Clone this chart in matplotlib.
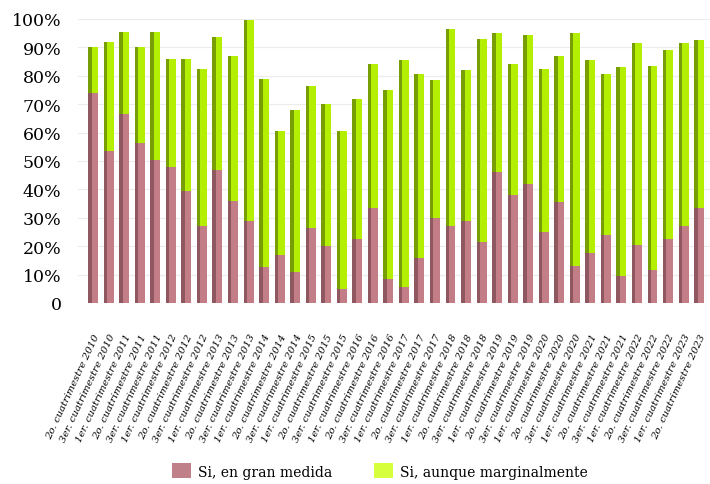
import matplotlib.pyplot as plt
from matplotlib.patches import Patch
from matplotlib.transforms import ScaledTranslation

periods = ['2o. cuatrimestre 2010', '3er. cuatrimestre 2010',
           '1er. cuatrimestre 2011', '2o. cuatrimestre 2011', '3er. cuatrimestre 2011',
           '1er. cuatrimestre 2012', '2o. cuatrimestre 2012', '3er. cuatrimestre 2012',
           '1er. cuatrimestre 2013', '2o. cuatrimestre 2013', '3er. cuatrimestre 2013',
           '1er. cuatrimestre 2014', '2o. cuatrimestre 2014', '3er. cuatrimestre 2014',
           '1er. cuatrimestre 2015', '2o. cuatrimestre 2015', '3er. cuatrimestre 2015',
           '1er. cuatrimestre 2016', '2o. cuatrimestre 2016', '3er. cuatrimestre 2016',
           '1er. cuatrimestre 2017', '2o. cuatrimestre 2017', '3er. cuatrimestre 2017',
           '1er. cuatrimestre 2018', '2o. cuatrimestre 2018', '3er. cuatrimestre 2018',
           '1er. cuatrimestre 2019', '2o. cuatrimestre 2019', '3er. cuatrimestre 2019',
           '1er. cuatrimestre 2020', '2o. cuatrimestre 2020', '3er. cuatrimestre 2020',
           '1er. cuatrimestre 2021', '2o. cuatrimestre 2021', '3er. cuatrimestre 2021',
           '1er. cuatrimestre 2022', '2o. cuatrimestre 2022', '3er. cuatrimestre 2022',
           '1er. cuatrimestre 2023', '2o. cuatrimestre 2023']

# "Si, en gran medida" (%)
gran_medida = [74, 53.5, 66.5, 56.5, 50.5, 48, 39.5, 27, 47, 36,
               29, 12.5, 17, 11, 26.5, 20, 5, 22.5, 33.5, 8.5,
               5.5, 16, 30, 27, 29, 21.5, 46, 38, 42, 25,
               35.5, 13, 17.5, 24, 9.5, 20.5, 11.5, 22.5, 27, 33.5]

# total share answering "Si" (%)
total_si = [90, 92, 95.5, 90, 95.5, 86, 86, 82.5, 93.5, 87,
            99.5, 79, 60.5, 68, 76.5, 70, 60.5, 72, 84, 75,
            85.5, 80.5, 78.5, 96.5, 82, 93, 95, 84, 94.5, 82.5,
            87, 95, 85.5, 80.5, 83, 91.5, 83.5, 89, 91.5, 92.5]

marginal = [t - g for t, g in zip(total_si, gran_medida)]

pink = '#c27d86'
pink_dark = '#6e3f45'
lime = '#b4ee00'
lime_dark = '#4f6a0a'

fig = plt.figure(figsize=(7.10, 4.85), dpi=100)
ax = fig.add_axes([0.11, 0.3732, 0.89, 0.5856])

x = list(range(len(periods)))
w = 0.64
ax.bar(x, gran_medida, width=w, color=pink, zorder=3)
ax.bar(x, marginal, bottom=gran_medida, width=w, color=lime, zorder=3)
# darker left face to give the columns some depth
xs = [i - w / 2 + 0.11 for i in x]
ax.bar(xs, gran_medida, width=0.22, color=pink_dark, alpha=0.6, zorder=4)
ax.bar(xs, marginal, bottom=gran_medida, width=0.22, color=lime_dark, alpha=0.6, zorder=4)

ax.set_xlim(-0.97, 39.7)
ax.set_ylim(0, 100)
ax.set_yticks(range(0, 101, 10))
ax.set_yticklabels(['0'] + ['%d%%' % v for v in range(10, 101, 10)],
                   family='DejaVu Serif', fontsize=12.5)
ax.set_xticks(x)
ax.set_xticklabels(periods, rotation=65, ha='right', rotation_mode='anchor',
                   family='DejaVu Serif', style='italic', fontsize=7.3)
shift = ScaledTranslation(5 / 100, 0, fig.dpi_scale_trans)
for lab in ax.get_xticklabels():
    lab.set_transform(lab.get_transform() + shift)
ax.tick_params(axis='y', length=0, pad=12)
ax.tick_params(axis='x', length=0, pad=21)
ax.grid(axis='y', color='#ececec', linewidth=0.8, zorder=0)
for s in ax.spines.values():
    s.set_visible(False)

handles = [Patch(facecolor='#c0808a', label='Si, en gran medida'),
           Patch(facecolor='#d6ff3c', label='Si, aunque marginalmente')]
fig.legend(handles=handles, loc='center', bbox_to_anchor=(0.535, 0.027), ncol=2,
           frameon=False, prop={'family': 'DejaVu Serif', 'size': 10},
           handlelength=1.37, handleheight=1.3, columnspacing=3.0, handletextpad=0.5)

fig.savefig('out.png', dpi=100)
